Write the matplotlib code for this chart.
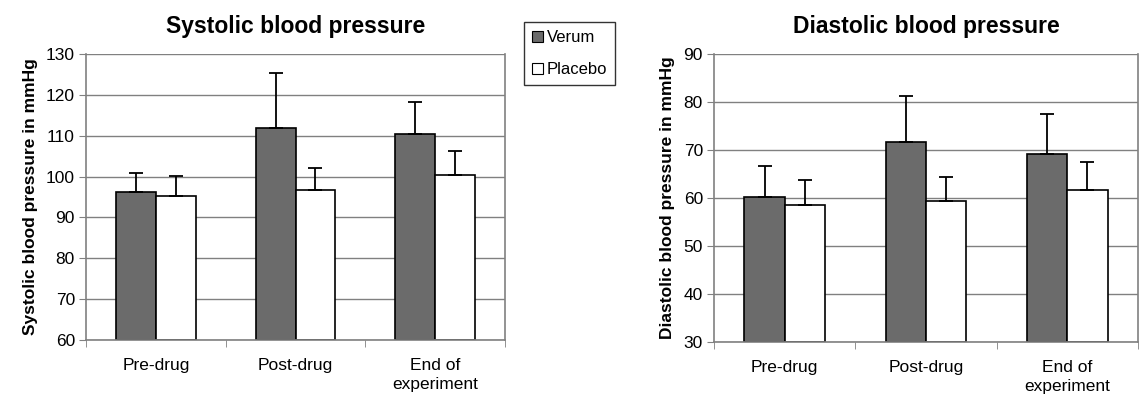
import matplotlib
matplotlib.use("Agg")
import matplotlib.pyplot as plt
from matplotlib.patches import Patch
import numpy as np

plt.rcParams['font.family'] = ['Liberation Sans', 'DejaVu Sans']

categories = ['Pre-drug', 'Post-drug', 'End of\nexperiment']
series = ['Verum', 'Placebo']

# systolic means and upper error (top of whisker)
sys_verum = [96.2, 111.8, 110.3]
sys_verum_top = [100.8, 125.3, 118.2]
sys_placebo = [95.3, 96.7, 100.3]
sys_placebo_top = [100.1, 102.2, 106.3]

# diastolic
dia_verum = [60.2, 71.6, 69.2]
dia_verum_top = [66.7, 81.3, 77.6]
dia_placebo = [58.6, 59.3, 61.6]
dia_placebo_top = [63.7, 64.4, 67.4]

dark = '#6b6b6b'
grey = '#808080'

fig = plt.figure(figsize=(11.39, 4.0), dpi=100)
ax1 = fig.add_axes([86/1139, 60/400, 419/1139, 286/400])
ax2 = fig.add_axes([714/1139, 58/400, 424/1139, 288/400])


def draw(ax, verum, vtop, placebo, ptop, ylim, ylabel, title):
    x = np.arange(len(categories))
    w = 0.285
    ax.set_axisbelow(True)
    ax.yaxis.grid(True, color=grey, lw=1)
    base = ylim[0]
    vh = np.array(verum) - base
    ph = np.array(placebo) - base
    ax.bar(x - w/2, vh, w, bottom=base, color=dark, edgecolor='black', lw=1.2, zorder=2)
    ax.bar(x + w/2, ph, w, bottom=base, color='white', edgecolor='black', lw=1.2, zorder=2)
    ve = np.array(vtop) - np.array(verum)
    pe = np.array(ptop) - np.array(placebo)
    ax.errorbar(x - w/2, verum, yerr=[np.zeros(3), ve], fmt='none', ecolor='black',
                elinewidth=1.3, capsize=5, capthick=1.3, zorder=3)
    ax.errorbar(x + w/2, placebo, yerr=[np.zeros(3), pe], fmt='none', ecolor='black',
                elinewidth=1.3, capsize=5, capthick=1.3, zorder=3)
    ax.set_xlim(-0.5, 2.5)
    ax.set_ylim(*ylim)
    ax.set_yticks(np.arange(ylim[0], ylim[1] + 1, 10))
    ax.set_xticks(x)
    ax.set_xticklabels(categories, fontsize=12.5)
    ax.set_xticks([-0.5, 0.5, 1.5, 2.5], minor=True)
    ax.tick_params(axis='x', which='major', length=0, pad=13)
    ax.tick_params(axis='x', which='minor', length=5, color=grey, direction='out')
    ax.tick_params(axis='y', length=5, color=grey, labelsize=12.5, pad=3)
    for s in ['left', 'bottom', 'right']:
        ax.spines[s].set_color(grey)
        ax.spines[s].set_linewidth(1.2)
    ax.spines['top'].set_visible(False)
    ax.set_ylabel(ylabel, fontsize=12.5, fontweight='bold', labelpad=6)
    ax.set_title(title, fontsize=16.5, fontweight='bold', pad=15)
    for lab in ax.get_xticklabels():
        lab.set_linespacing(1.35)
        lab.set_verticalalignment('top')


draw(ax1, sys_verum, sys_verum_top, sys_placebo, sys_placebo_top, (60, 130),
     'Systolic blood pressure in mmHg', 'Systolic blood pressure')
draw(ax2, dia_verum, dia_verum_top, dia_placebo, dia_placebo_top, (30, 90),
     'Diastolic blood pressure in mmHg', 'Diastolic blood pressure')

handles = [Patch(facecolor=dark, edgecolor='black', lw=0.8),
           Patch(facecolor='white', edgecolor='black', lw=0.8)]
leg = fig.legend(handles, series, loc='upper left', bbox_to_anchor=(524/1139, 1 - 22/400),
                 fontsize=12, frameon=True, fancybox=False, handlelength=0.65,
                 handleheight=0.65, handletextpad=0.2, borderpad=0.5, labelspacing=1.0,
                 borderaxespad=0)
leg.get_frame().set_edgecolor('black')
leg.get_frame().set_linewidth(1.0)

fig.savefig('out.png', dpi=100)
